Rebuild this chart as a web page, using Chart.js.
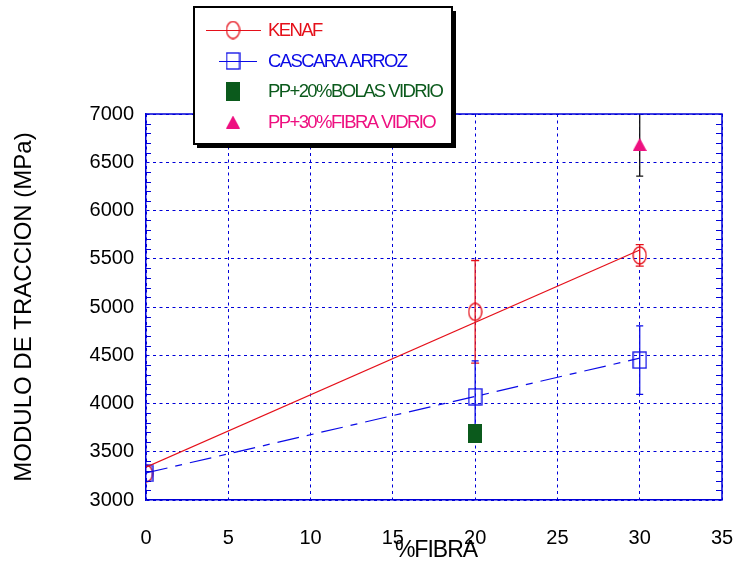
<!DOCTYPE html>
<html>
<head>
<meta charset="utf-8">
<script src="https://cdn.jsdelivr.net/npm/chart.js@4"></script>
<style>
  html, body { margin: 0; padding: 0; background: #fff; }
  #wrap { width: 737px; height: 567px; position: relative; }
</style>
</head>
<body>
<div id="wrap"><canvas id="chart" width="737" height="567"></canvas></div>
<script>
// ─── Data ────────────────────────────────────────────────────────────────────
const fibra = [0, 20, 30];
const kenaf = [3275, 4950, 5535];
const kenafErr = [0, 532, 112];
const cascara = [3275, 4070, 4450];
const cascaraErr = [0, 372, 355];

const fitX = [0, 30];
const kenafFit = [3340, 5590];
const cascaraFit = [3280, 4470];

const bolasX = [20];
const bolas = [3690];
const fibraVidrioX = [30];
const fibraVidrio = [6685];
const fibraVidrioErr = [328];

const xTicks = [0, 5, 10, 15, 20, 25, 30, 35];
const yTicks = [3000, 3500, 4000, 4500, 5000, 5500, 6000, 6500, 7000];

const RED = "#e5101a";
const BLUE = "#0a0ae6";
const GREEN = "#0b5a1c";
const MAGENTA = "#ee1080";
const AXIS = "#0000d8";
const FONT = "'Liberation Sans', Arial, sans-serif";

const pts = (xs, ys) => xs.map((x, i) => ({ x, y: ys[i] }));

// ─── Marker images ───────────────────────────────────────────────────────────
function marker(w, h, draw) {
  const c = document.createElement("canvas");
  c.width = w;
  c.height = h;
  draw(c.getContext("2d"), w, h);
  return c;
}

const ellipseMark = marker(15, 19, (g, w, h) => {
  g.strokeStyle = RED;
  g.lineWidth = 1.3;
  g.beginPath();
  g.ellipse(w / 2, h / 2, w / 2 - 1, h / 2 - 1, 0, 0, Math.PI * 2);
  g.stroke();
});
const squareMark = marker(15, 18, (g, w, h) => {
  g.strokeStyle = BLUE;
  g.lineWidth = 1.3;
  g.strokeRect(1, 1, w - 2, h - 2);
});
const bolasMark = marker(14, 19, (g, w, h) => {
  g.fillStyle = GREEN;
  g.fillRect(0, 0, w, h);
});
const triMark = marker(14, 13, (g, w, h) => {
  g.fillStyle = MAGENTA;
  g.beginPath();
  g.moveTo(w / 2, 0);
  g.lineTo(w, h);
  g.lineTo(0, h);
  g.closePath();
  g.fill();
});

// ─── Error bars ──────────────────────────────────────────────────────────────
const errorSets = [
  { xs: fibra, ys: kenaf, errs: kenafErr, color: RED, cap: 8 },
  { xs: fibra, ys: cascara, errs: cascaraErr, color: BLUE, cap: 7 },
  { xs: fibraVidrioX, ys: fibraVidrio, errs: fibraVidrioErr, color: "#111", cap: 7 },
];

const errorBars = {
  id: "errorBars",
  beforeDatasetsDraw(chart) {
    const { ctx, chartArea: a, scales: { x, y } } = chart;
    ctx.save();
    ctx.beginPath();
    ctx.rect(a.left, a.top, a.right - a.left, a.bottom - a.top);
    ctx.clip();
    ctx.lineWidth = 1.3;
    errorSets.forEach((s) => {
      ctx.strokeStyle = s.color;
      s.xs.forEach((xv, i) => {
        if (!s.errs[i]) return;
        const px = x.getPixelForValue(xv);
        const top = y.getPixelForValue(s.ys[i] + s.errs[i]);
        const bot = y.getPixelForValue(s.ys[i] - s.errs[i]);
        ctx.beginPath();
        ctx.moveTo(px, top);
        ctx.lineTo(px, bot);
        ctx.moveTo(px - s.cap / 2, top);
        ctx.lineTo(px + s.cap / 2, top);
        ctx.moveTo(px - s.cap / 2, bot);
        ctx.lineTo(px + s.cap / 2, bot);
        ctx.stroke();
      });
    });
    ctx.restore();
  },
};

// ─── Frame: top/right border, minor ticks, axis titles, legend box ──────────
const frame = {
  id: "frame",
  afterDatasetsDraw(chart) {
    const { ctx, chartArea: a, scales: { y } } = chart;
    ctx.save();
    ctx.strokeStyle = AXIS;
    ctx.lineWidth = 1.5;
    ctx.beginPath();
    ctx.moveTo(a.left, a.top);
    ctx.lineTo(a.right, a.top);
    ctx.lineTo(a.right, a.bottom);
    ctx.stroke();
    ctx.lineWidth = 1;
    ctx.beginPath();
    for (let v = 3100; v < 7000; v += 100) {
      if (v % 500 === 0) continue;
      const py = Math.round(y.getPixelForValue(v)) + 0.5;
      ctx.moveTo(a.left, py);
      ctx.lineTo(a.left + 5, py);
      ctx.moveTo(a.right, py);
      ctx.lineTo(a.right - 6, py);
    }
    ctx.stroke();
    ctx.restore();
  },
  afterDraw(chart) {
    const { ctx, chartArea: a } = chart;
    ctx.save();
    ctx.fillStyle = "#000";
    ctx.textAlign = "center";
    ctx.textBaseline = "middle";

    // axis titles
    ctx.font = `23px ${FONT}`;
    ctx.letterSpacing = "-1px";
    ctx.fillText("%FIBRA", (a.left + a.right) / 2 + 2, 551);
    ctx.letterSpacing = "0px";
    ctx.translate(24, (a.top + a.bottom) / 2);
    ctx.rotate(-Math.PI / 2);
    ctx.font = `24px ${FONT}`;
    ctx.fillText("MODULO DE TRACCION (MPa)", 0, 0);
    ctx.setTransform(1, 0, 0, 1, 0, 0);

    // legend box with shadow
    ctx.fillStyle = "#000";
    ctx.fillRect(452, 11, 4, 137);
    ctx.fillRect(197, 144, 259, 4);
    ctx.fillStyle = "#fff";
    ctx.fillRect(194, 7, 258, 137);
    ctx.strokeStyle = "#000";
    ctx.lineWidth = 2;
    ctx.strokeRect(194, 7, 258, 137);

    const entries = [
      { label: "KENAF", color: RED, y: 30, line: [206, 261], img: ellipseMark },
      { label: "CASCARA ARROZ", color: BLUE, y: 61, line: [219, 257], img: squareMark },
      { label: "PP+20%BOLAS VIDRIO", color: GREEN, y: 91, img: bolasMark },
      { label: "PP+30%FIBRA VIDRIO", color: MAGENTA, y: 122, img: triMark },
    ];
    ctx.textAlign = "left";
    ctx.font = `18.5px ${FONT}`;
    ctx.letterSpacing = "-1.6px";
    entries.forEach((e) => {
      if (e.line) {
        ctx.strokeStyle = e.color;
        ctx.lineWidth = 1.2;
        ctx.beginPath();
        ctx.moveTo(e.line[0], e.y + 0.5);
        ctx.lineTo(e.line[1], e.y + 0.5);
        ctx.stroke();
      }
      ctx.drawImage(e.img, 233 - e.img.width / 2, e.y - e.img.height / 2);
      ctx.fillStyle = e.color;
      ctx.fillText(e.label, 268, e.y + 1);
    });
    ctx.restore();
  },
};

// ─── Chart ───────────────────────────────────────────────────────────────────
new Chart(document.getElementById("chart"), {
  type: "scatter",
  data: {
    datasets: [
      {
        type: "line",
        label: "KENAF fit",
        data: pts(fitX, kenafFit),
        borderColor: RED,
        borderWidth: 1.2,
        pointRadius: 0,
      },
      {
        type: "line",
        label: "CASCARA fit",
        data: pts(fitX, cascaraFit),
        borderColor: BLUE,
        borderWidth: 1.2,
        borderDash: [22, 8, 7, 8],
        pointRadius: 0,
      },
      {
        label: "CASCARA ARROZ",
        data: pts(fibra, cascara),
        pointStyle: squareMark,
      },
      {
        label: "KENAF",
        data: pts(fibra, kenaf),
        pointStyle: ellipseMark,
      },
      {
        label: "PP+20%BOLAS VIDRIO",
        data: pts(bolasX, bolas),
        pointStyle: bolasMark,
      },
      {
        label: "PP+30%FIBRA VIDRIO",
        data: pts(fibraVidrioX, fibraVidrio),
        pointStyle: triMark,
      },
    ],
  },
  options: {
    responsive: false,
    animation: false,
    layout: { padding: { top: 114, right: 15, left: 0, bottom: 0 } },
    plugins: {
      legend: { display: false },
      tooltip: { enabled: false },
    },
    scales: {
      x: {
        type: "linear",
        min: 0,
        max: 35,
        afterBuildTicks: (s) => { s.ticks = xTicks.map((v) => ({ value: v })); },
        afterFit: (s) => {
          s.height = 67;
          s.paddingLeft = 0;
          s.paddingRight = 0;
        },
        ticks: {
          padding: 26,
          color: "#000",
          font: { family: FONT, size: 20 },
          callback: (v) => String(v),
        },
        grid: {
          color: AXIS,
          lineWidth: 1,
          drawTicks: false,
        },
        border: { color: AXIS, width: 1.5, dash: [3, 3.5] },
      },
      y: {
        type: "linear",
        min: 3000,
        max: 7000,
        afterBuildTicks: (s) => { s.ticks = yTicks.map((v) => ({ value: v })); },
        afterFit: (s) => {
          s.width = 146;
          s.paddingTop = 0;
          s.paddingBottom = 0;
        },
        ticks: {
          padding: 12,
          color: "#000",
          font: { family: FONT, size: 20 },
          callback: (v) => String(v),
        },
        grid: {
          color: AXIS,
          lineWidth: 1,
          drawTicks: false,
        },
        border: { color: AXIS, width: 1.5, dash: [3, 3.5] },
      },
    },
  },
  plugins: [errorBars, frame],
});
</script>
</body>
</html>
